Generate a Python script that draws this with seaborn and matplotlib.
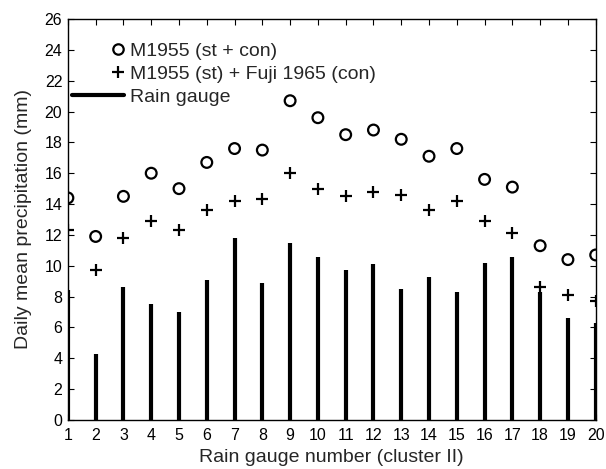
import matplotlib
matplotlib.use("Agg")
import numpy as np
import pandas as pd
import matplotlib.pyplot as plt
import seaborn as sns
from matplotlib.lines import Line2D
from matplotlib.legend_handler import HandlerLine2D

# Values
gauges = list(range(1, 21))
m1955_st_con = [14.4, 11.9, 14.5, 16.0, 15.0, 16.7, 17.6, 17.5, 20.7, 19.6,
                18.5, 18.8, 18.2, 17.1, 17.6, 15.6, 15.1, 11.3, 10.4, 10.7]
m1955_fuji = [12.3, 9.7, 11.8, 12.9, 12.3, 13.6, 14.2, 14.3, 16.0, 15.0,
              14.5, 14.8, 14.6, 13.6, 14.2, 12.9, 12.1, 8.6, 8.1, 7.7]
rain_gauge = [8.4, 4.3, 8.6, 7.5, 7.0, 9.1, 11.8, 8.9, 11.5, 10.6,
              9.7, 10.1, 8.5, 9.3, 8.3, 10.2, 10.6, 8.3, 6.6, 6.3]

df = pd.DataFrame({"gauge": gauges, "st_con": m1955_st_con,
                   "fuji": m1955_fuji, "rain": rain_gauge})

sns.set_style("ticks")
plt.rcParams['font.family'] = ['Liberation Sans', 'DejaVu Sans']


class RightMarker(HandlerLine2D):
    # single legend marker sitting at the right end of the handle
    def get_xdata(self, legend, xdescent, ydescent, width, height, fontsize):
        x = -xdescent + width - 0.3 * fontsize
        return np.array([x]), np.array([x])


fig = plt.figure(figsize=(6.06, 4.69), dpi=100)
ax = fig.add_axes([0.112, 0.1045, 0.871, 0.855])

ax.vlines(df["gauge"], 0, df["rain"], color="black", linewidth=3)
sns.scatterplot(data=df, x="gauge", y="st_con", ax=ax, marker="o", s=60,
                facecolor="none", edgecolor="black", linewidth=1.6, legend=False)
sns.scatterplot(data=df, x="gauge", y="fuji", ax=ax, marker="+", s=85,
                color="black", linewidth=1.6, legend=False)

ax.set_xlim(1, 20)
ax.set_ylim(0, 26)
ax.set_xticks(gauges)
ax.set_yticks(np.arange(0, 27, 2))
ax.tick_params(direction="in", top=True, right=True, labelsize=11.5,
               length=4, width=0.8, colors="black", pad=4)
ax.tick_params(axis="x", pad=6)
for sp in ax.spines.values():
    sp.set_linewidth(1.0)
    sp.set_color("black")
ax.set_xlabel("Rain gauge number (cluster II)", fontsize=14, labelpad=4)
ax.set_ylabel("Daily mean precipitation (mm)", fontsize=14, labelpad=9)

circ = Line2D([], [], marker="o", linestyle="none", markersize=7.5,
              markerfacecolor="none", markeredgecolor="black", markeredgewidth=1.6)
plus = Line2D([], [], marker="+", linestyle="none", markersize=9,
              color="black", markeredgewidth=1.6)
gauge_line = Line2D([], [], color="black", linewidth=3)
marker_handler = RightMarker(numpoints=2)
ax.legend([circ, plus, gauge_line],
          ["M1955 (st + con)", "M1955 (st) + Fuji 1965 (con)", "Rain gauge"],
          loc="upper left", bbox_to_anchor=(0.0, 0.952),
          frameon=False, fontsize=14, handlelength=2.7, handletextpad=0.3,
          labelspacing=0.28, borderaxespad=0.1, borderpad=0.1,
          handler_map={circ: marker_handler, plus: marker_handler})

fig.savefig("out.png", dpi=100)
